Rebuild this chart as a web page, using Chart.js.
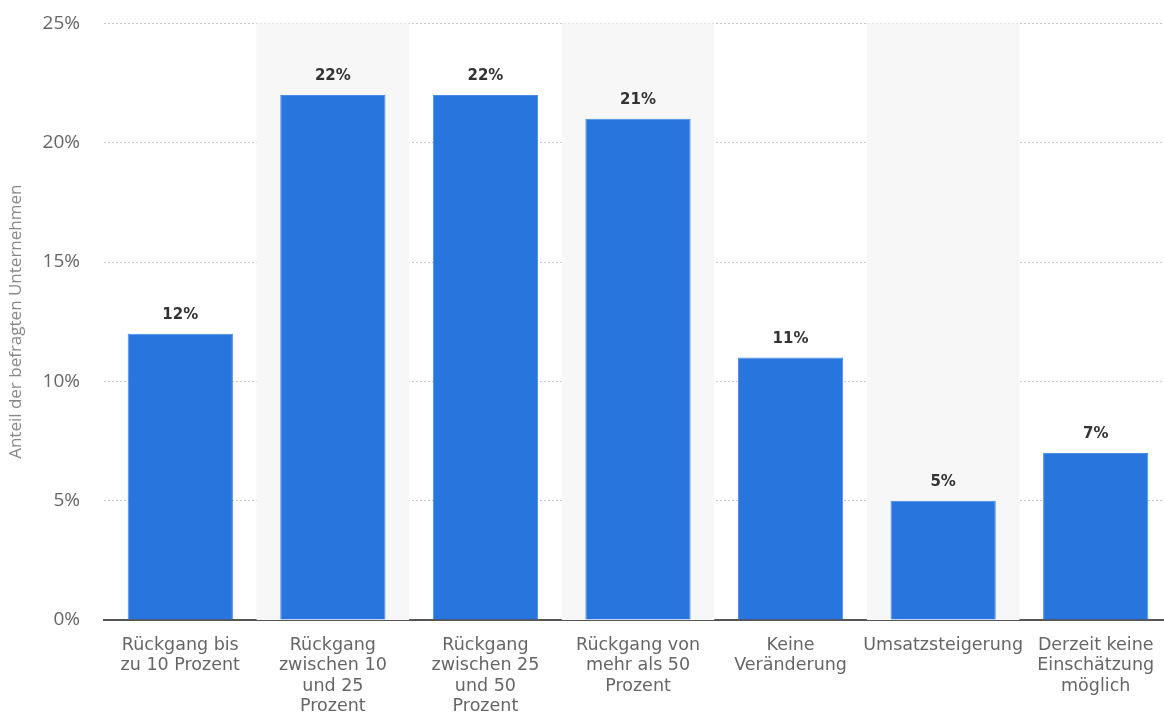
<!DOCTYPE html>
<html>
<head>
<meta charset="utf-8">
<script src="https://cdn.jsdelivr.net/npm/chart.js@4/dist/chart.umd.min.js"></script>
<style>
  html, body { margin: 0; padding: 0; background: #fff; overflow: hidden; }
  #wrap { width: 1172px; height: 726px; margin-top: -12px; position: relative; }
</style>
</head>
<body>
<div id="wrap"><canvas id="chart"></canvas></div>
<script>
const categories = [
  ["Rückgang bis", "zu 10 Prozent"],
  ["Rückgang", "zwischen 10", "und 25", "Prozent"],
  ["Rückgang", "zwischen 25", "und 50", "Prozent"],
  ["Rückgang von", "mehr als 50", "Prozent"],
  ["Keine", "Veränderung"],
  ["Umsatzsteigerung"],
  ["Derzeit keine", "Einschätzung", "möglich"],
];
const shares = [12, 22, 22, 21, 11, 5, 7];
const yTicks = [0, 5, 10, 15, 20, 25];
const yTitle = "Anteil der befragten Unternehmen";

// grey bands behind every second category
const bandPlugin = {
  id: "bands",
  beforeDatasetsDraw(chart) {
    const { ctx, chartArea, scales } = chart;
    const x = scales.x;
    const w = x.width / categories.length;
    ctx.save();
    ctx.fillStyle = "#f7f7f7";
    for (let i = 1; i < categories.length; i += 2) {
      const cx = x.getPixelForValue(i);
      ctx.fillRect(cx - w / 2, chartArea.top, w, chartArea.bottom - chartArea.top);
    }
    ctx.restore();
  },
};

// value labels above bars
const valuePlugin = {
  id: "values",
  afterDatasetsDraw(chart) {
    const { ctx } = chart;
    const meta = chart.getDatasetMeta(0);
    ctx.save();
    ctx.font = "bold 15px DejaVu Sans";
    ctx.fillStyle = "#333";
    ctx.textAlign = "center";
    ctx.textBaseline = "bottom";
    meta.data.forEach((bar, i) => {
      ctx.fillText(shares[i] + "%", bar.x, bar.y - 11);
    });
    ctx.restore();
  },
};

const ctx = document.getElementById("chart");
const chart = new Chart(ctx, {
  type: "bar",
  data: {
    labels: categories,
    datasets: [
      {
        data: shares,
        backgroundColor: "#2876dd",
        borderColor: "#4a8de6",
        borderWidth: 1,
        categoryPercentage: 1,
        barPercentage: 0.69,
      },
    ],
  },
  options: {
    responsive: true,
    maintainAspectRatio: false,
    animation: false,
    layout: { padding: { top: 11, right: 0, left: 0, bottom: 0 } },
    plugins: {
      legend: { display: false },
      tooltip: { enabled: false },
    },
    scales: {
      x: {
        grid: { display: false, drawTicks: false },
        border: { display: true, color: "#555", width: 2 },
        ticks: {
          color: "#666",
          font: { family: "DejaVu Sans", size: 17.5, lineHeight: 1.17 },
          padding: 15,
          maxRotation: 0,
          autoSkip: false,
        },
        afterFit(scale) { scale.height = 94; },
      },
      y: {
        min: 0,
        max: 25,
        afterBuildTicks(scale) {
          scale.ticks = yTicks.map((v) => ({ value: v }));
        },
        grid: {
          color: "#c8c8c8",
          lineWidth: 1,
          drawTicks: false,
        },
        border: { display: false, dash: [2, 2] },
        ticks: {
          color: "#666",
          font: { family: "Open Sans", size: 19 },
          padding: 24,
          callback: (v) => v + "%",
        },
        title: {
          display: true,
          text: yTitle,
          color: "#888",
          font: { family: "Open Sans", size: 17 },
          padding: { top: 6, bottom: 4 },
        },
        afterFit(scale) { scale.width = 104; },
      },
    },
  },
  plugins: [bandPlugin, valuePlugin],
});
</script>
</body>
</html>
